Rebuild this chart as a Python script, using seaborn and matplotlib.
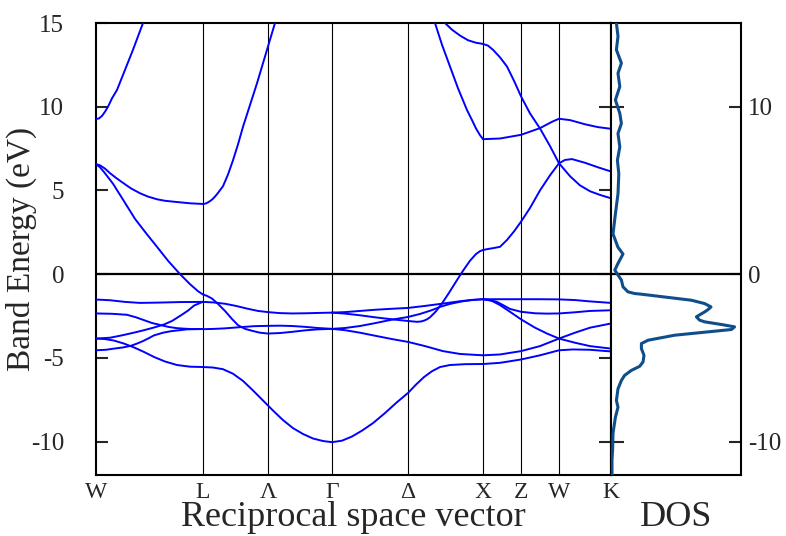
import pandas as pd
import seaborn as sns
import matplotlib
matplotlib.use("Agg")
import matplotlib.pyplot as plt

# high-symmetry points along the path (k in arbitrary path units)
sym_labels = ["W", "L", "Λ", "Γ", "Δ", "X", "Z", "W", "K"]
sym_k = [96, 203, 268, 332, 408, 483, 521, 559, 611]

# bands: (k, energy in eV)
# W -> L -> Gamma, free-electron-like band
band_s = [(96, 6.57), (100, 6.38), (104, 6.1), (113, 5.4), (123, 4.45), (135, 3.3), (146, 2.45),
          (157, 1.63), (168, 0.8), (180, 0.0), (190, -0.6), (198, -1.02), (203, -1.22),
          (207, -1.3), (212, -1.46), (218, -1.78), (225, -2.2), (232, -2.68), (238, -3.05),
          (245, -3.27), (253, -3.4), (260, -3.5), (268, -3.55), (280, -3.52), (292, -3.45),
          (305, -3.36), (318, -3.3), (332, -3.27)]

# W -> L
wl_g = [(96, 6.57), (100, 6.5), (105, 6.3), (110, 6.03), (116, 5.75), (123, 5.45),
        (131, 5.12), (140, 4.83), (148, 4.63), (157, 4.47), (165, 4.38), (173, 4.33),
        (190, 4.23), (203, 4.19)]
wl_h = [(96, 9.26), (99, 9.3), (102, 9.45), (105, 9.7), (108, 10.0), (112, 10.5),
        (117, 11.0), (123, 11.9), (133, 13.4), (143, 15.0), (147, 15.7)]
wl_a = [(96, -1.52), (110, -1.56), (125, -1.66), (140, -1.72), (160, -1.70), (180, -1.67),
        (203, -1.66)]
wl_b = [(96, -2.35), (112, -2.37), (127, -2.43), (136, -2.58), (144, -2.75), (152, -2.92),
        (161, -3.05), (169, -3.16), (177, -3.23), (190, -3.28), (203, -3.28)]
wl_c = [(96, -3.85), (110, -3.8), (121, -3.67), (133, -3.51), (144, -3.35), (154, -3.19),
        (164, -3.01), (172, -2.8), (181, -2.46), (188, -2.18), (194, -1.88), (203, -1.65)]
wl_d = [(96, -3.85), (105, -3.88), (114, -3.97), (124, -4.15), (134, -4.38), (144, -4.65),
        (154, -4.95), (165, -5.22), (177, -5.43), (190, -5.53), (203, -5.55)]
wl_e = [(96, -4.55), (106, -4.52), (114, -4.45), (123, -4.38), (131, -4.28), (137, -4.15),
        (143, -4.0), (149, -3.82), (154, -3.66), (163, -3.5), (171, -3.41), (187, -3.3),
        (203, -3.28)]

# L -> Gamma
lg_top = [(203, -1.66), (213, -1.69), (225, -1.77), (236, -1.9), (247, -2.06), (258, -2.2),
          (268, -2.27), (280, -2.33), (292, -2.35), (305, -2.34), (318, -2.32), (332, -2.30)]
lg_mid = [(203, -3.29), (215, -3.27), (225, -3.24), (240, -3.17), (254, -3.11), (268, -3.09),
          (280, -3.08), (292, -3.1), (305, -3.15), (318, -3.22), (332, -3.27)]
lg_low = [(203, -5.55), (213, -5.58), (223, -5.68), (233, -5.95), (243, -6.38), (253, -6.95),
          (263, -7.55), (273, -8.15), (283, -8.72), (293, -9.2), (303, -9.55), (313, -9.82),
          (323, -9.97), (332, -10.04)]
lg_up = [(203, 4.19), (206, 4.22), (209, 4.32), (212, 4.45), (215, 4.63), (218, 4.85),
         (223, 5.25), (228, 5.95), (233, 6.8), (238, 7.75), (243, 8.8), (250, 10.1),
         (257, 11.4), (263, 12.6), (268, 13.6), (275, 15.0), (278, 15.6)]

# Gamma -> X
gx_1 = [(332, -2.30), (345, -2.27), (360, -2.2), (375, -2.13), (392, -2.07), (408, -2.02),
        (425, -1.9), (443, -1.76), (460, -1.62), (472, -1.54), (483, -1.50)]
gx_2 = [(332, -2.30), (345, -2.36), (360, -2.46), (375, -2.58), (392, -2.7), (408, -2.8),
        (417, -2.85), (421, -2.83), (424, -2.78), (427, -2.7), (430, -2.58), (436, -2.22),
        (442, -1.75), (449, -1.12), (456, -0.45), (463, 0.2), (470, 0.8), (476, 1.2),
        (480, 1.37), (483, 1.44)]
gx_3 = [(332, -3.27), (345, -3.22), (360, -3.1), (375, -2.93), (392, -2.72), (408, -2.56),
        (420, -2.38), (432, -2.15), (440, -1.96), (450, -1.78), (462, -1.63), (472, -1.55),
        (483, -1.50)]
gx_4 = [(332, -3.27), (345, -3.35), (360, -3.5), (375, -3.68), (392, -3.88), (408, -4.05),
        (425, -4.3), (443, -4.6), (460, -4.77), (483, -4.85)]
gx_5 = [(332, -10.04), (342, -9.95), (352, -9.7), (362, -9.35), (373, -8.9), (385, -8.3),
        (397, -7.65), (408, -7.1), (416, -6.6), (424, -6.15), (432, -5.8), (440, -5.55),
        (450, -5.43), (465, -5.38), (483, -5.37)]
gx_6 = [(432, 15.6), (435, 15.0), (442, 13.7), (450, 12.4), (458, 11.1), (467, 9.8),
        (472, 9.2), (476, 8.7), (480, 8.3), (483, 8.06)]
gx_7 = [(440, 15.6), (445, 15.0), (452, 14.6), (460, 14.25), (468, 13.97), (476, 13.82),
        (483, 13.75)]

# X -> Z -> W -> K
xk_1 = [(483, -1.50), (500, -1.50), (521, -1.50), (540, -1.50), (559, -1.51), (575, -1.55),
        (590, -1.63), (611, -1.72)]
xk_2 = [(483, -1.50), (490, -1.55), (497, -1.66), (503, -1.85), (510, -2.08), (521, -2.25),
        (535, -2.34), (547, -2.36), (559, -2.35), (575, -2.28), (590, -2.2), (611, -2.16)]
xk_3 = [(483, -1.50), (492, -1.6), (500, -1.85), (510, -2.25), (521, -2.7), (535, -3.2),
        (547, -3.55), (559, -3.85), (575, -4.1), (590, -4.3), (611, -4.45)]
xk_4 = [(483, -4.85), (500, -4.8), (521, -4.6), (540, -4.3), (559, -3.85), (575, -3.5),
        (590, -3.2), (611, -2.95)]
xk_5 = [(483, -5.37), (500, -5.3), (521, -5.1), (540, -4.85), (559, -4.55), (573, -4.5),
        (590, -4.52), (611, -4.62)]
xk_6 = [(483, 1.44), (488, 1.5), (493, 1.55), (500, 1.63), (507, 2.04), (514, 2.55),
        (521, 3.13), (530, 3.95), (540, 5.0), (550, 5.9), (559, 6.62), (565, 6.82),
        (572, 6.87), (585, 6.65), (598, 6.38), (611, 6.13)]
xk_7 = [(483, 8.06), (500, 8.1), (521, 8.32), (540, 8.72), (552, 9.1), (559, 9.28),
        (570, 9.2), (585, 8.95), (598, 8.78), (611, 8.68)]
xk_8 = [(483, 13.75), (488, 13.65), (493, 13.4), (500, 12.95), (507, 12.4), (514, 11.55),
        (521, 10.62), (530, 9.6), (540, 8.7), (550, 7.65), (559, 6.62), (570, 5.85),
        (580, 5.3), (590, 4.95), (600, 4.73), (611, 4.53)]

# density of states (arbitrary units) against energy
dos_energy = [15.2, 14.2, 13.4, 12.6, 12.0, 11.2, 10.4, 9.6, 9.0, 8.4, 7.6, 6.8, 6.0, 4.8,
              3.6, 2.4, 1.6, 1.2, 0.64, 0.24, -0.36, -0.76, -1.06, -1.16, -1.2, -1.32,
              -1.56, -1.76, -1.96, -2.12, -2.26, -2.55, -2.75, -2.85, -3.01, -3.15, -3.31,
              -3.45, -3.65, -3.95, -4.15, -4.45, -4.85, -5.25, -5.51, -5.75, -6.05, -6.35,
              -6.85, -7.55, -7.95, -8.55, -9.5, -10.5, -11.1, -12.0]
dos_value = [0.25, 0.35, 0.27, 0.52, 0.35, 0.44, 0.22, 0.44, 0.52, 0.35, 0.44, 0.32, 0.39,
             0.35, 0.22, 0.10, 0.35, 0.60, 0.35, 0.19, 0.52, 0.60, 0.85, 1.18, 1.52, 2.35,
             4.02, 4.68, 5.0, 4.85, 4.68, 4.27, 4.43, 4.68, 5.52, 6.18, 6.02, 4.85, 3.18,
             1.85, 1.52, 1.52, 1.65, 1.6, 1.43, 1.02, 0.68, 0.52, 0.35, 0.27, 0.35, 0.22,
             0.10, 0.08, 0.05, 0.05]

band_lines = {
    "s": band_s, "wl_g": wl_g, "wl_h": wl_h, "wl_a": wl_a, "wl_b": wl_b, "wl_c": wl_c,
    "wl_d": wl_d, "wl_e": wl_e, "lg_top": lg_top, "lg_mid": lg_mid, "lg_low": lg_low,
    "lg_up": lg_up, "gx_1": gx_1, "gx_2": gx_2, "gx_3": gx_3, "gx_4": gx_4, "gx_5": gx_5,
    "gx_6": gx_6, "gx_7": gx_7, "xk_1": xk_1, "xk_2": xk_2, "xk_3": xk_3, "xk_4": xk_4,
    "xk_5": xk_5, "xk_6": xk_6, "xk_7": xk_7, "xk_8": xk_8,
}
rows = []
for name, pts in band_lines.items():
    for k, e in pts:
        rows.append({"band": name, "k": k, "E": e})
bands_df = pd.DataFrame(rows)
dos_df = pd.DataFrame({"E": dos_energy, "dos": dos_value})

sns.set_style("ticks")
plt.rcParams["font.family"] = ["Liberation Serif", "DejaVu Serif"]
plt.rcParams["axes.unicode_minus"] = False

fig = plt.figure(figsize=(7.86, 5.36), dpi=100)
ax = fig.add_axes([96 / 786, 61 / 536, 515 / 786, 452 / 536])
dax = fig.add_axes([611 / 786, 61 / 536, 130 / 786, 452 / 536])

# band structure panel
for k in sym_k[1:-1]:
    ax.axvline(k, color="black", lw=0.8, zorder=1)
ax.axhline(0, color="black", lw=1.6, zorder=1)
sns.lineplot(data=bands_df, x="k", y="E", units="band", estimator=None, sort=False,
             color="#0000ff", lw=1.4, ax=ax, zorder=3)
ax.set_xlim(sym_k[0], sym_k[-1])
ax.set_ylim(-12, 15)
ax.set_xticks(sym_k)
ax.set_xticklabels(sym_labels)
ax.set_yticks([-10, -5, 0, 5, 10, 15])
ax.tick_params(axis="y", direction="in", length=8.5, width=1.5, left=True, right=True,
               labelsize=18, pad=23)
ax.tick_params(axis="x", length=0, labelsize=17, pad=5)
ax.set_xlabel("Reciprocal space vector", fontsize=26)
ax.set_ylabel("Band Energy (eV)", fontsize=24)
ax.xaxis.set_label_coords(0.5, -0.058)
ax.yaxis.set_label_coords(-0.114, 0.5)

# DOS panel
dax.axhline(0, color="black", lw=1.6, zorder=1)
sns.lineplot(data=dos_df, x="dos", y="E", estimator=None, sort=False, orient="y",
             color="#104e8b", lw=2.2, ax=dax, zorder=3)
dax.set_xlim(0, 6.5)
dax.set_ylim(-12, 15)
dax.set_xticks([])
dax.set_yticks([-10, 0, 10])
dax.tick_params(axis="y", direction="in", length=9, width=1.5, left=True, right=True,
                labelleft=False, labelright=True, labelsize=18, pad=5)
dax.set_xlabel("DOS", fontsize=26)
dax.set_ylabel("")
dax.xaxis.set_label_coords(0.5, -0.058)

for a in (ax, dax):
    for sp in a.spines.values():
        sp.set_visible(True)
        sp.set_linewidth(1.5)
        sp.set_color("black")

fig.savefig("out.png", dpi=100)
